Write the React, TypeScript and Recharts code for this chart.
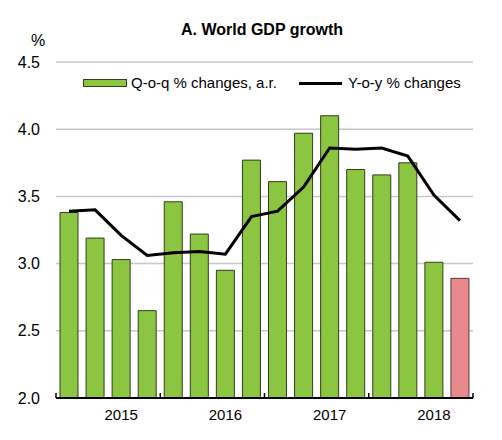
import { ComposedChart, Bar, Line, XAxis, YAxis, CartesianGrid, Legend, Cell } from 'recharts';

// quarterly world GDP growth, %
const quarters = [
  '2015Q1', '2015Q2', '2015Q3', '2015Q4',
  '2016Q1', '2016Q2', '2016Q3', '2016Q4',
  '2017Q1', '2017Q2', '2017Q3', '2017Q4',
  '2018Q1', '2018Q2', '2018Q3', '2018Q4',
];
const qoqChange = [3.38, 3.19, 3.03, 2.65, 3.46, 3.22, 2.95, 3.77, 3.61, 3.97, 4.1, 3.7, 3.66, 3.75, 3.01, 2.89];
const yoyChange = [3.39, 3.4, 3.21, 3.06, 3.08, 3.09, 3.07, 3.35, 3.39, 3.57, 3.86, 3.85, 3.86, 3.8, 3.51, 3.32];
const yearLabels = ['2015', '2016', '2017', '2018'];
const yTicks = [2, 2.5, 3, 3.5, 4, 4.5];

const data = quarters.map((q, i) => ({ q, qoq: qoqChange[i], yoy: yoyChange[i] }));

const W = 502;
const H = 440;
const margin = { top: 62, right: 29, bottom: 0, left: 0 };
const Y_AXIS_W = 56;
const X_AXIS_H = 42;
const halfBand = (W - margin.left - margin.right - Y_AXIS_W) / quarters.length / 2;

const GREEN = '#8cc540';
const PINK = '#e8898e';
const FONT = '"Liberation Sans", Arial, sans-serif';

const YearTick = ({ x, y, index }: any) => {
  const last = index === quarters.length - 1;
  return (
    <g>
      {index % 4 === 0 && (
        <line x1={x - halfBand} x2={x - halfBand} y1={y - 5} y2={y} stroke="#000" strokeWidth={1.5} />
      )}
      {last && <line x1={x + halfBand} x2={x + halfBand} y1={y - 5} y2={y} stroke="#000" strokeWidth={1.5} />}
      {index % 4 === 2 && (
        <text x={x} y={y + 22} textAnchor="middle" fontSize={15} fill="#000">
          {yearLabels[Math.floor(index / 4)]}
        </text>
      )}
    </g>
  );
};

const LegendBox = () => (
  <div style={{ display: 'flex', alignItems: 'center', fontSize: 15, lineHeight: '16px', color: '#000' }}>
    <span style={{ width: 42, height: 6, background: GREEN, border: '1px solid #2f3f1f', marginRight: 4 }} />
    <span>Q-o-q % changes, a.r.</span>
    <span style={{ width: 43, height: 3, background: '#000', marginLeft: 22, marginRight: 6 }} />
    <span>Y-o-y % changes</span>
  </div>
);

export default function App() {
  return (
    <div style={{ position: 'absolute', left: 0, top: 0, width: W, height: H, background: '#fff', fontFamily: FONT }}>
      <div style={{ position: 'absolute', left: 262, top: 22, transform: 'translateX(-50%)', fontSize: 16, lineHeight: '16px', fontWeight: 'bold', whiteSpace: 'nowrap' }}>
        A. World GDP growth
      </div>
      <div style={{ position: 'absolute', left: 31, top: 33, fontSize: 16, lineHeight: '16px' }}>%</div>
      <ComposedChart width={W} height={H} data={data} margin={margin} barSize={18}>
        <CartesianGrid vertical={false} stroke="#c8c8c8" strokeWidth={1.5} />
        <XAxis
          dataKey="q"
          interval={0}
          height={X_AXIS_H}
          tickLine={false}
          tickSize={0}
          tickMargin={0}
          tick={<YearTick />}
          axisLine={{ stroke: '#000', strokeWidth: 2 }}
        />
        <YAxis
          domain={[2, 4.5]}
          ticks={yTicks}
          width={Y_AXIS_W}
          axisLine={false}
          tickLine={false}
          tickMargin={10}
          tickFormatter={(v: number) => v.toFixed(1)}
          tick={{ fontSize: 16, fill: '#000' }}
        />
        <Legend
          layout="horizontal"
          verticalAlign="middle"
          align="center"
          content={<LegendBox />}
          wrapperStyle={{ top: 75, left: 83, width: 400, height: 16, margin: 0, padding: 0 }}
        />
        <Bar dataKey="qoq" fill={GREEN} stroke="#2f3f1f" strokeWidth={1} isAnimationActive={false}>
          {data.map((d, i) => (
            <Cell key={d.q} fill={i === data.length - 1 ? PINK : GREEN} stroke={i === data.length - 1 ? '#5a3a3a' : '#2f3f1f'} />
          ))}
        </Bar>
        <Line dataKey="yoy" type="linear" stroke="#000" strokeWidth={3} dot={false} isAnimationActive={false} />
      </ComposedChart>
    </div>
  );
}
